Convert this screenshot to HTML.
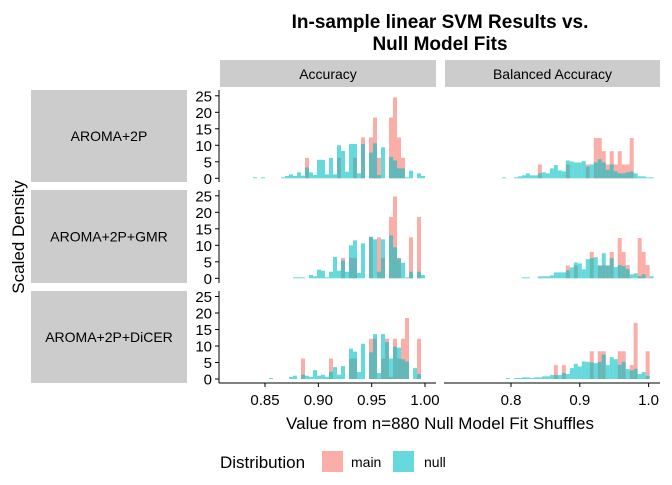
<!DOCTYPE html>
<html><head><meta charset="utf-8"><style>
body{margin:0;background:#fff;}
svg text{font-family:"Liberation Sans",Arial,sans-serif;}
</style></head><body>
<svg id="chart" width="672" height="480" xmlns="http://www.w3.org/2000/svg">
<rect width="672" height="480" fill="#fff"/>
<text x="440" y="28" font-size="19" font-weight="bold" text-anchor="middle" fill="#000">In-sample linear SVM Results vs.</text>
<text x="440" y="50" font-size="19" font-weight="bold" text-anchor="middle" fill="#000">Null Model Fits</text>
<g id="panels"></g>
<text x="440" y="429" font-size="17" text-anchor="middle" fill="#000">Value from n=880 Null Model Fit Shuffles</text>
<text transform="translate(24,237) rotate(-90)" font-size="17" text-anchor="middle" fill="#000">Scaled Density</text>
<g>
<text x="220" y="468" font-size="17" fill="#000">Distribution</text>
<rect x="322" y="451" width="21" height="21" fill="#F8766D" fill-opacity="0.6"/>
<text x="351" y="467" font-size="14" fill="#000">main</text>
<rect x="393" y="451" width="21" height="21" fill="#00BFC4" fill-opacity="0.6"/>
<text x="424" y="467" font-size="14" fill="#000">null</text>
</g>
</svg>
<script>
const rowLabels = ["AROMA+2P","AROMA+2P+GMR","AROMA+2P+DiCER"];
const colLabels = ["Accuracy","Balanced Accuracy"];
const yTicks = [0,5,10,15,20,25];
const accTicks = [0.85,0.90,0.95,1.00];
const accTickLabels = ["0.85","0.90","0.95","1.00"];
const balTicks = [0.8,0.9,1.0];
const balTickLabels = ["0.8","0.9","1.0"];
const accBinStart = 0.83875, accBinWidth = 0.00375;
const balBinStart = 0.7869, balBinWidth = 0.0058;
const accNull1 = [0.3,0,0.3,0,0,0,0,0.3,0.7,1.2,0.7,1.8,0.8,3.3,1.8,1.0,5.6,5.6,1.2,6.2,1.2,10,8.3,2,10.4,10.4,1.5,10.4,0,7.8,10.6,1,9.4,0,6.5,5.4,3,3,0.3,2.3,0,1.5,0.7];
const accMain1 = [0,0,0,0,0,0,0,0,0,0,0,0,0,6.2,0,0,0,0,0,0,0,6.2,0,0,0,6.2,0,12.4,0,12.4,18.4,6.2,0,0,18.4,24.5,12.4,6.2,0,0,0,0,0];
const accNull2 = [0,0,0,0,0,0,0,0,0,0,0.3,0.3,0.3,0,1,0.6,2.6,2.3,0.3,2,6.5,2.3,5.4,2,10,11.5,1.6,10.6,0,12.6,11.8,2,11.8,0,13,9.4,6,4.7,0.3,2,0,2,1];
const accMain2 = [0,0,0,0,0,0,0,0,0,0,0,0,0,0,0,0,0,0,0,0,0,0,6.2,0,6.2,6.2,0,0,0,12.4,0,12.4,6.2,0,18.6,24.8,6.2,0,0,12.4,0,18.6,0];
const accNull3 = [0,0,0,0,0.3,0,0,0,0,0.6,1,0,1.3,1,0.6,2.7,1,1.3,0.7,2.2,3.6,1.3,3.9,0,9.2,8.3,2.1,10.7,0,8.1,13.6,1.8,13.6,11.2,6.2,9.8,9.5,6,5.3,0,3.3,1.5,0];
const accMain3 = [0,0,0,0,0,0,0,0,0,0,0,0,6.2,0,0,0,0,0,0,6.2,0,0,0,0,6.2,6.2,0,0,0,12.2,12.2,0,6.2,12.2,0.6,12.2,6.2,12.2,18.5,0,0,12.2,0];
const balNull1 = [0.3,0,0,0.3,0.6,0.9,1.5,0.9,0.9,1.5,1.8,1.5,3,4,2.4,2.1,5.4,5.1,4.8,4.8,5.2,3.6,4.2,4.8,5.8,4.8,2.6,4.2,2.1,1.5,1.5,1.8,2.1,1.5,0.6,0.6,0.3,0.3];
const balMain1 = [0,0,0,0,0,0,0,0,0,4.2,0,0,0,0,0,0,4.2,0,0,0,0,4.2,0,12.2,12.2,8.2,4.2,8.2,4.2,8.2,4.2,4.2,12.2,0,0,0,0,0];
const balNull2 = [0,0,0,0,0,0.3,0.3,0,0,0.6,0.6,0.6,0.9,1.8,1.8,1.8,2.4,3.3,4.8,4.5,2.7,5.8,6.1,6.4,3.9,7.6,3.9,6.1,3.4,4,3.7,2.8,1.2,1.5,0.6,1.2,0,0.6];
const balMain2 = [0,0,0,0,0,0,0,0,0,0,0,0,0,0,0,0,3.9,0,3.9,0,0,0,8,0,3.9,3.9,3.9,8,0,12.2,8,4,0,0,12.2,8,4,0];
const balNull3 = [0,0.3,0,0.3,0.3,0.5,0.5,0.3,0.5,0.5,0.8,0.8,1.2,1.2,1.2,1.8,1.5,3.3,4.6,3.8,5.3,5.2,5,4.8,5.2,7.4,4.2,6.6,6.0,4.3,5.2,3.0,2.6,3.1,1.5,2.1,1.0,0];
const balMain3 = [0,0,0,0,0,0,0,0,0,0,0,0,0,4.2,0,4.2,0,0,0,0,0,0,8.4,0,8.4,8.4,0,0,0,8.4,8.4,0,4.2,17,0,0,8.4,0];

const NS = "http://www.w3.org/2000/svg";
const g = document.getElementById("panels");
function mk(tag, attrs, parent){ const e=document.createElementNS(NS,tag); for(const k in attrs) e.setAttribute(k,attrs[k]); (parent||g).appendChild(e); return e; }
const accX = v => 265 + (v-0.85)*1066.7;
const balX = v => 511 + (v-0.8)*688;
const rowZero = [178.3, 278.3, 379];
const rowTop = [90, 190, 291], rowBot = [182, 283, 383];
const yScale = (r,v) => rowZero[r] - v*3.3;
const panelX = [[220,436],[445,660]];

colLabels.forEach((c,ci)=>{
  const r = mk("rect",{x:panelX[ci][0],y:60,width:panelX[ci][1]-panelX[ci][0],height:27,fill:"#cccccc"});
  
  
  const t = mk("text",{x:(panelX[ci][0]+panelX[ci][1])/2,y:79,"font-size":14,"text-anchor":"middle",fill:"#000"});
  t.textContent = c;
  
  
});
rowLabels.forEach((lab,ri)=>{
  const r = mk("rect",{x:31,y:rowTop[ri],width:156,height:rowBot[ri]-rowTop[ri],fill:"#cccccc"});
  
  
  const t = mk("text",{x:109,y:(rowTop[ri]+rowBot[ri])/2+5,"font-size":14,"text-anchor":"middle",fill:"#000"});
  t.textContent = lab;
  
  
  const ax = mk("line",{x1:219,x2:219,y1:rowTop[ri],y2:rowBot[ri],stroke:"#000"});
  
  
  yTicks.forEach(v=>{
    const y = yScale(ri,v);
    const tk = mk("line",{x1:215,x2:219,y1:y,y2:y,stroke:"#000"});
    
    
    const tl = mk("text",{x:212,y:y+5.5,"font-size":15,"text-anchor":"end",fill:"#000"});
    tl.textContent = v;
    
    
  });
});
function drawBars(vals, start, w, xf, ri, color, name){
  vals.forEach((v,i)=>{
    if(v<=0) return;
    const x0 = xf(start + i*w), x1 = xf(start + (i+1)*w);
    const y = yScale(ri,v);
    const b = mk("rect",{x:x0,y:y,width:x1-x0,height:rowZero[ri]-y,fill:color,"fill-opacity":0.6});
    
    
  });
}
const accMain=[accMain1,accMain2,accMain3], accNull=[accNull1,accNull2,accNull3];
const balMain=[balMain1,balMain2,balMain3], balNull=[balNull1,balNull2,balNull3];
for(let ri=0;ri<3;ri++){
  drawBars(accMain[ri],accBinStart,accBinWidth,accX,ri,"#F8766D","main");
  drawBars(accNull[ri],accBinStart,accBinWidth,accX,ri,"#00BFC4","null");
  drawBars(balMain[ri],balBinStart,balBinWidth,balX,ri,"#F8766D","main");
  drawBars(balNull[ri],balBinStart,balBinWidth,balX,ri,"#00BFC4","null");
}
[[accTicks,accTickLabels,accX,0],[balTicks,balTickLabels,balX,1]].forEach(([ticks,labels,xf,ci])=>{
  const ax = mk("line",{x1:panelX[ci][0]-1,x2:panelX[ci][1],y1:383,y2:383,stroke:"#000"});
  
  
  ticks.forEach((v,i)=>{
    const x = xf(v);
    const tk = mk("line",{x1:x,x2:x,y1:383,y2:387,stroke:"#000"});
    
    
    const tl = mk("text",{x:x,y:405,"font-size":15,"text-anchor":"middle",fill:"#000"});
    tl.textContent = labels[i];
    
    
  });
});
</script>
</body></html>
